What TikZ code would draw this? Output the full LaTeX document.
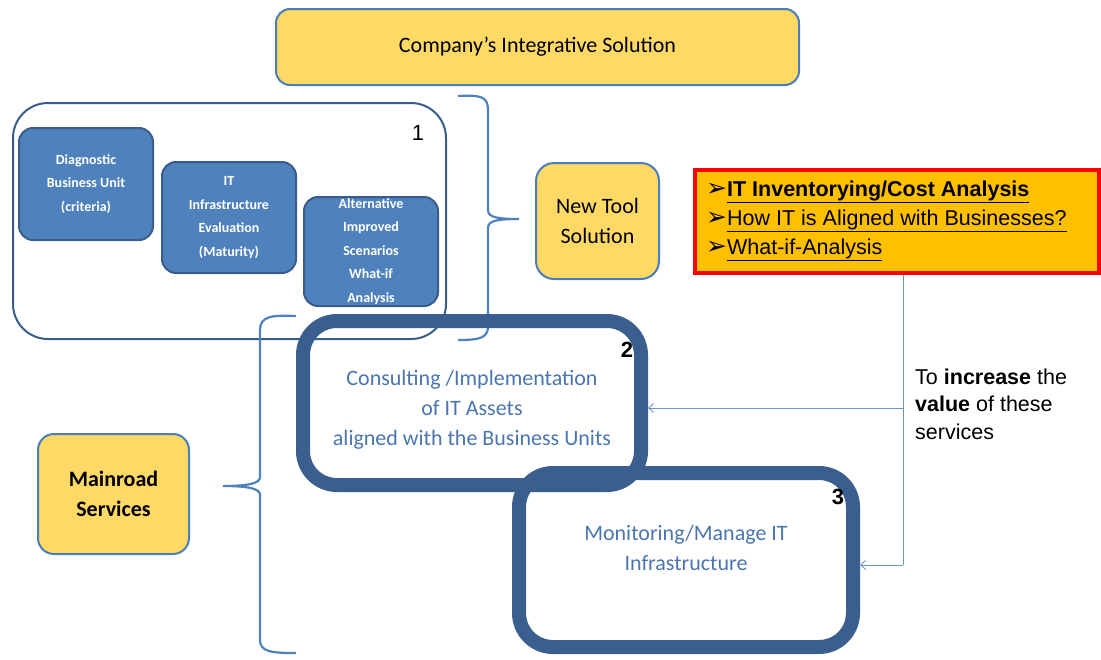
\documentclass[tikz,border=0pt]{standalone}
\usepackage{fontspec}
\setmainfont{Carlito}
\newfontfamily\arial{Liberation Sans}
\newfontfamily\djv{DejaVu Sans}
\usetikzlibrary{arrows.meta}
\definecolor{ylw}{HTML}{FFD966}
\definecolor{bdr}{HTML}{4A7EBB}
\definecolor{bfill}{HTML}{4F81BD}
\definecolor{bedge}{HTML}{385D8A}
\definecolor{thickc}{HTML}{3A5F8F}
\definecolor{txtblue}{HTML}{4A75AE}
\definecolor{org}{HTML}{FFC000}
\newcommand{\barrow}{{\djv\fontsize{25}{25}\selectfont ➢}}
\begin{document}
\begin{tikzpicture}[x=1pt,y=-1pt,
 ybox/.style={draw=bdr, fill=ylw, line width=2pt, rounded corners=14pt, inner sep=0pt, align=center, font=\fontsize{22}{30}\selectfont},
 bbox/.style={draw=bedge, fill=bfill, line width=2pt, rounded corners=14pt, inner sep=0pt, align=center, text=white, font=\fontsize{14}{23.5}\selectfont\bfseries, minimum width=134pt},
 tbox/.style={draw=thickc, line width=14pt, rounded corners=34pt, inner sep=0pt},
 ttext/.style={text=txtblue, align=center, font=\fontsize{22}{30}\selectfont},
 num/.style={font=\arial\fontsize{22}{22}\selectfont},
 conn/.style={draw=bfill!85, line width=0.9pt},
 tip/.style={-{Straight Barb[length=5pt,width=9pt]}},
 brace/.style={draw=bfill, line width=2.2pt},
]
\useasboundingbox (0,0) rectangle (1101,659);

% top box
\node[ybox, minimum width=523pt, minimum height=76pt] (top) at (537.5,47) {Company’s Integrative Solution};

% box 1
\node[draw=bedge, line width=2pt, rounded corners=35pt, minimum width=433pt, minimum height=236pt] (b1) at (229.5,221) {};
\node[num] (n1) at (418,133) {1};
\node[bbox, minimum height=112pt] (diag) at (86,184) {Diagnostic\\Business Unit\\(criteria)};
\node[bbox, minimum height=111pt] (itinf) at (229,217.5) {IT\\Infrastructure\\Evaluation\\(Maturity)};
\node[bbox, minimum height=109pt] (alt) at (371,251.5) {Alternative\\Improved\\Scenarios\\What-if\\Analysis};

% right brace of box 1
\draw[brace] (458,96) .. controls (480,95) and (488,96) .. (488,110) -- (488,210)
  .. controls (488,217) and (496,219) .. (519,219)
  .. controls (496,219) and (488,221) .. (488,228) -- (488,326)
  .. controls (488,338) and (480,340) .. (458,340);

% new tool
\node[ybox, rounded corners=18pt, minimum width=123pt, minimum height=116pt] (newtool) at (597.5,221) {New Tool\\Solution};

% red box
\node[draw=red, fill=org, line width=4pt, minimum width=404pt, minimum height=103pt, inner sep=0pt] (red) at (897,221.5) {};
\node[anchor=west, align=left, inner sep=0pt, font=\arial\fontsize{21.5}{29}\selectfont] (redtxt) at (706,221) {%
\barrow\underline{\textbf{IT Inventorying/Cost Analysis}}\\
\barrow\underline{How IT is Aligned with Businesses?}\\
\barrow\underline{What-if-Analysis}};

% mainroad
\node[ybox, rounded corners=16pt, minimum width=151pt, minimum height=120pt, font=\fontsize{22}{30}\selectfont\bfseries] (main) at (113.5,494) {Mainroad\\Services};

% left brace
\draw[brace] (296,316) .. controls (272,315) and (260,316) .. (260,330) -- (260,477)
  .. controls (260,483) and (250,486) .. (223,486)
  .. controls (250,486) and (260,489) .. (260,495) -- (260,640)
  .. controls (260,652) and (272,653) .. (296,653);

% box 2 and 3
\node[tbox, minimum width=334pt, minimum height=174pt] (b3) at (686,560) {};
\node[tbox, minimum width=338pt, minimum height=164pt] (b2) at (472,403) {};
\node[ttext] (t2) at (472,410) {Consulting /Implementation\\of IT Assets\\aligned with the Business Units};
\node[ttext] (t3) at (686,548) {Monitoring/Manage IT\\Infrastructure};
\node[num, font=\arial\bfseries\fontsize{22}{22}\selectfont] (n2) at (627,350) {2};
\node[num, font=\arial\bfseries\fontsize{22}{22}\selectfont] (n3) at (838,497) {3};

% connectors
\coordinate (jb) at (903,408);
\coordinate (jc) at (903,565);
\draw[conn] (red.south -| jc) -- (jc);
\draw[conn,tip] (jc) -- (jc -| b3.east);
\draw[conn,tip] (jb) -- (jb -| b2.east);

% side text
\node[anchor=west, align=left, inner sep=0pt, font=\arial\fontsize{21.5}{27.5}\selectfont] (inc) at (915,404) {To \textbf{increase} the\\\textbf{value} of these\\services};
\end{tikzpicture}
\end{document}
